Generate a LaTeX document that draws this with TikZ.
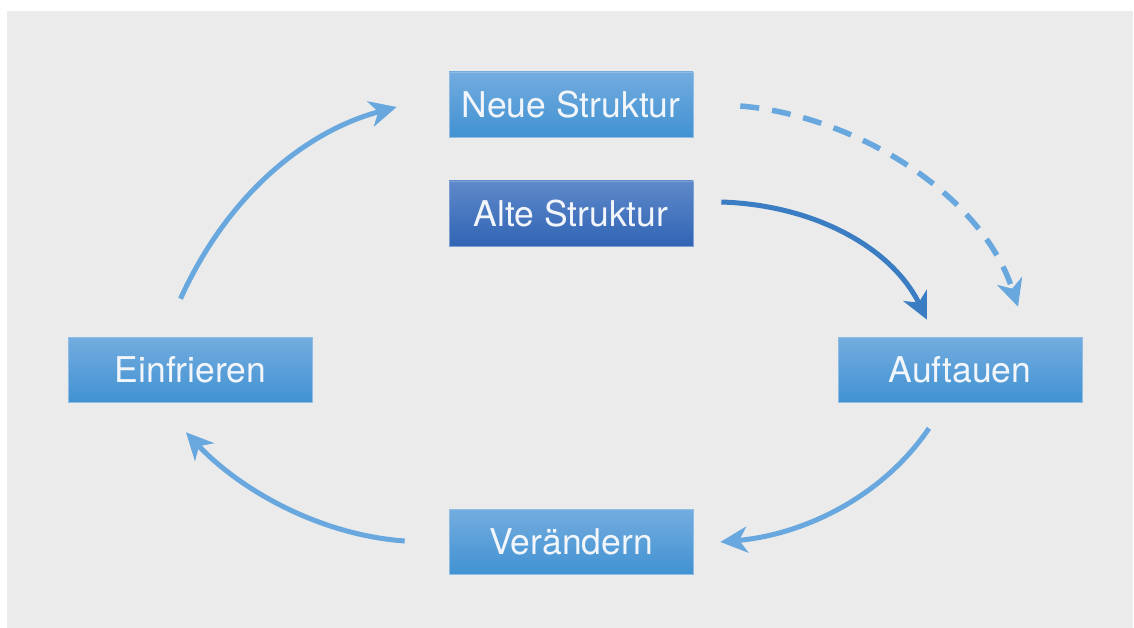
\documentclass[tikz,border=0pt]{standalone}
\usepackage{fontspec}
\setmainfont{TeX Gyre Heros}
\usetikzlibrary{arrows.meta}
\definecolor{bgray}{HTML}{EBEBEB}
\definecolor{boxtop}{HTML}{73ACDF}
\definecolor{boxbot}{HTML}{4192D2}
\definecolor{darktop}{HTML}{5E89CA}
\definecolor{darkbot}{HTML}{3164B4}
\definecolor{arrlight}{HTML}{68A8DE}
\definecolor{arrdark}{HTML}{3A7DC3}
\definecolor{txt}{HTML}{F2F6FB}
\tikzset{
  stagebox/.style={rectangle, minimum width=244pt, minimum height=65pt,
    inner sep=0pt, top color=boxtop, bottom color=boxbot, draw=boxtop!80!white,
    line width=0.6pt, text=txt, font=\fontsize{35.5}{42}\selectfont},
  oldbox/.style={stagebox, top color=darktop, bottom color=darkbot, draw=darktop!80!white},
  tiphead/.style={-{Stealth[length=27pt, width=26pt, inset=8pt]}},
  flow/.style={tiphead, draw=arrlight, line width=5pt},
  flowdark/.style={tiphead, draw=arrdark, line width=5pt},
  flowdash/.style={tiphead, draw=arrlight, line width=5.5pt, dash pattern=on 19pt off 13pt}
}
\begin{document}
\begin{tikzpicture}[x=1pt, y=-1pt]
  \useasboundingbox (0,0) rectangle (1134,628);
  \fill[white] (0,0) rectangle (1134,628);
  \fill[bgray] (7,11) rectangle (1133,628);

  % stages of the cycle
  \node[stagebox] (neue) at (571,104.5) {Neue Struktur};
  \node[oldbox]   (alte) at (571,213.5) {Alte Struktur};
  \node[stagebox] (ein)  at (190.5,369.5) {Einfrieren};
  \node[stagebox] (auf)  at (960,369.5) {Auftauen};
  \node[stagebox] (ver)  at (571,542) {Verändern};

  % cycle connectors
  \draw[flow] ([xshift=-10pt,yshift=38pt]ein.north)
    .. controls (230,190) and (310,130) .. ([xshift=-52pt,yshift=-2.5pt]neue.west);
  \draw[flowdash] ([xshift=47pt,yshift=-1.5pt]neue.east)
    .. controls (850,115) and (980,190) .. ([xshift=58pt,yshift=30pt]auf.north);
  \draw[flowdark] ([xshift=28pt,yshift=11.5pt]alte.east)
    .. controls (815,205) and (892,248) .. ([xshift=-33pt,yshift=17pt]auf.north);
  \draw[flow] ([xshift=-31pt,yshift=-26pt]auf.south)
    .. controls (880,500) and (800,535) .. ([xshift=27pt]ver.east);
  \draw[flow] ([xshift=-44pt,yshift=1pt]ver.west)
    .. controls (320,535) and (240,490) .. ([xshift=-4.5pt,yshift=-30pt]ein.south);
\end{tikzpicture}
\end{document}
